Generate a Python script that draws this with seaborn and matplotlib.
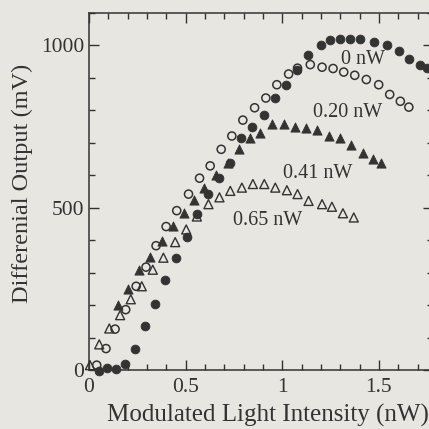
import matplotlib
matplotlib.use("Agg")
import matplotlib.pyplot as plt
import seaborn as sns
from matplotlib.ticker import MultipleLocator

# 0 nW background (filled circles)
x_0nw = [0.053, 0.092, 0.138, 0.186, 0.238, 0.290, 0.342, 0.395, 0.451, 0.506, 0.558,
         0.618, 0.675, 0.731, 0.785, 0.843, 0.903, 0.964, 1.021, 1.076, 1.131, 1.200,
         1.245, 1.297, 1.349, 1.404, 1.473, 1.542, 1.603, 1.658, 1.715, 1.750]
y_0nw = [-2, 6, 3, 18, 66, 136, 202, 276, 345, 411, 481,
         542, 591, 639, 714, 748, 787, 838, 879, 925, 971, 1002,
         1017, 1019, 1019, 1019, 1010, 1002, 982, 959, 941, 930]

# 0.20 nW (open circles)
x_020 = [0.040, 0.088, 0.135, 0.190, 0.244, 0.295, 0.347, 0.399, 0.454, 0.515, 0.572,
         0.627, 0.684, 0.739, 0.796, 0.857, 0.915, 0.972, 1.033, 1.079, 1.145, 1.206,
         1.263, 1.318, 1.375, 1.435, 1.499, 1.556, 1.611, 1.655]
y_020 = [15, 66, 126, 186, 258, 317, 383, 442, 491, 542, 591,
         629, 680, 721, 770, 808, 838, 879, 912, 930, 941, 933,
         929, 918, 908, 895, 879, 849, 828, 810]

# 0.41 nW (filled triangles)
x_041 = [0.152, 0.204, 0.261, 0.316, 0.376, 0.433, 0.489, 0.544, 0.596, 0.657, 0.718,
         0.777, 0.834, 0.886, 0.946, 1.007, 1.067, 1.124, 1.180, 1.240, 1.297, 1.358,
         1.416, 1.470, 1.513]
y_041 = [199, 251, 309, 348, 397, 443, 483, 524, 560, 601, 639,
         680, 714, 731, 759, 759, 748, 746, 741, 721, 714, 693,
         670, 649, 639]

# 0.65 nW (open triangles)
x_065 = [0.005, 0.053, 0.105, 0.161, 0.216, 0.273, 0.330, 0.385, 0.446, 0.503, 0.558,
         0.618, 0.675, 0.731, 0.791, 0.848, 0.907, 0.964, 1.024, 1.079, 1.136, 1.206,
         1.257, 1.314, 1.370]
y_065 = [15, 79, 128, 169, 218, 258, 309, 346, 394, 433, 473,
         511, 532, 552, 562, 573, 573, 562, 554, 542, 521, 511,
         503, 483, 470]

curve_labels = ["0 nW", "0.20 nW", "0.41 nW", "0.65 nW"]
label_x = [1.42, 1.337, 1.185, 0.922]
label_y = [956, 792, 605, 460]

bg = "#e8e6e1"
ink = "#333333"

sns.set_style("ticks")
plt.rcParams["font.family"] = ["Liberation Serif", "DejaVu Serif"]

fig = plt.figure(figsize=(4.29, 4.29), dpi=100, facecolor=bg)
ax = fig.add_axes([89 / 429, 59 / 429, 344 / 429, 357 / 429])
ax.set_facecolor(bg)

sns.scatterplot(x=x_0nw, y=y_0nw, marker="o", s=40, color=ink, edgecolor=ink,
                linewidth=0.6, ax=ax, clip_on=False, zorder=3)
sns.scatterplot(x=x_020, y=y_020, marker="o", s=34, facecolor="none", edgecolor=ink,
                linewidth=1.1, ax=ax, clip_on=False, zorder=3)
sns.scatterplot(x=x_041, y=y_041, marker="^", s=44, color=ink, edgecolor=ink,
                linewidth=0.6, ax=ax, clip_on=False, zorder=3)
sns.scatterplot(x=x_065, y=y_065, marker="^", s=42, facecolor="none", edgecolor=ink,
                linewidth=1.0, ax=ax, clip_on=False, zorder=3)

for t, lx, ly in zip(curve_labels, label_x, label_y):
    ax.text(lx, ly, t, ha="center", va="center", fontsize=14.5, color=ink)

ax.set_xlim(0, 1.78)
ax.set_ylim(0, 1100)
ax.xaxis.set_major_locator(MultipleLocator(0.5))
ax.xaxis.set_minor_locator(MultipleLocator(0.1))
ax.yaxis.set_major_locator(MultipleLocator(500))
ax.yaxis.set_minor_locator(MultipleLocator(100))
ax.set_xticks([0, 0.5, 1, 1.5])
ax.set_xticklabels(["0", "0.5", "1", "1.5"])
ax.set_yticks([0, 500, 1000])
ax.set_yticklabels(["0", "500", "1000"])

ax.tick_params(which="both", direction="in", top=True, right=True, color=ink, width=1.0)
ax.tick_params(which="major", length=7)
ax.tick_params(which="minor", length=4)
ax.tick_params(axis="x", labelsize=15.5, pad=5.5, labelcolor=ink)
ax.tick_params(axis="y", labelsize=15.5, pad=3.5, labelcolor=ink)
for sp in ax.spines.values():
    sp.set_color(ink)
    sp.set_linewidth(1.1)

ax.set_xlabel("Modulated Light Intensity (nW)", fontsize=18, color=ink)
ax.set_ylabel("Differenial Output (mV)", fontsize=17.5, color=ink, va="center")
ax.xaxis.set_label_coords(0.519, -0.095)
ax.yaxis.set_label_coords(-0.195, 0.522)

fig.savefig("out.png", dpi=100, facecolor=bg)
